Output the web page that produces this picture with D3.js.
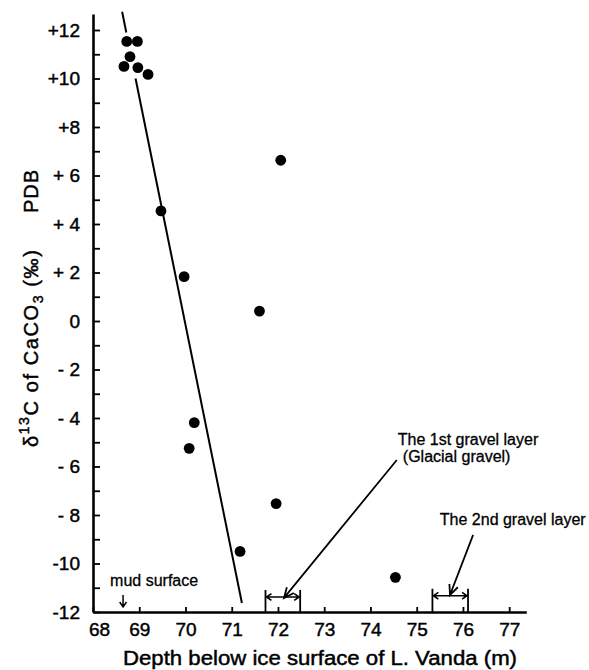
<!DOCTYPE html>
<html>
<head>
<meta charset="utf-8">
<script src="https://cdn.jsdelivr.net/npm/d3@7"></script>
<style>
  html, body { margin: 0; padding: 0; background: #fff; }
  svg { display: block; }
  text { font-family: "Liberation Sans", Arial, sans-serif; fill: #000; }
  .heavy { stroke: #000; stroke-width: 0.45px; }
</style>
</head>
<body>
<svg id="chart" width="589" height="670"></svg>
<script>
// ---- data ----
const depth = [68.73, 68.96, 68.80, 68.67, 68.97, 69.19, 69.47, 69.97, 71.60, 72.06, 70.19, 70.08, 71.96, 71.18, 74.54];
const d13C  = [11.53, 11.53, 10.90, 10.50, 10.45, 10.17, 4.54, 1.83, 0.41, 6.63, -4.19, -5.25, -7.53, -9.50, -10.57];

// regression line, drawn as two segments (gap behind the top cluster)
const fitDepth = [68.63, 68.72, 68.92, 71.22];
const fitD13C  = [12.75, 11.90, 10.00, -11.63];

const xTickValues = [68, 69, 70, 71, 72, 73, 74, 75, 76, 77];
const xTickLabels = ["68", "69", "70", "71", "72", "73", "74", "75", "76", "77"];
const yTickValues = [12, 10, 8, 6, 4, 2, 0, -2, -4, -6, -8, -10, -12];
const yTickLabels = ["+12", "+10", "+8", "+ 6", "+ 4", "+ 2", "0", "- 2", "- 4", "- 6", "- 8", "-10", "-12"];

// gravel layers (depth ranges) and annotations
const gravelStart = [71.73, 75.34];
const gravelEnd   = [72.48, 76.11];
const gravelLevel = [-11.38, -11.33];
const gravelNames = [["The 1st gravel layer", "(Glacial gravel)"], ["The 2nd gravel layer"]];
const gravelTextX = [[74.59, 74.70], [75.50]];
const gravelTextY = [[-5.11, -5.81], [-8.41]];
const gravelArrowFrom = [[74.57, -5.73], [76.22, -8.82]];
const gravelArrowTo   = [[72.13, -11.42], [75.72, -11.30]];
const mudDepth = 68.65;
const mudText = "mud surface";

// ---- scales ----
const svg = d3.select("#chart");
const x = d3.scaleLinear().domain([68, 77.37]).range([93, 526.3]);
const y = d3.scaleLinear().domain([-12, 12.66]).range([612, 14]);

// ---- axes ----
const xLab = new Map(xTickValues.map((v, i) => [v, xTickLabels[i]]));
const xAxis = d3.axisBottom(x).tickValues(xTickValues).tickSizeInner(-5).tickSizeOuter(0)
  .tickPadding(11).tickFormat(d => xLab.get(d));
const gx = svg.append("g").attr("transform", `translate(0,${y(-12)})`).call(xAxis);
gx.select(".domain").attr("stroke", "#000").attr("stroke-width", 2.6);
gx.selectAll(".tick line").attr("stroke", "#000").attr("stroke-width", 1.8);
gx.selectAll(".tick text").attr("font-size", 19).attr("font-family", "Liberation Sans, Arial, sans-serif")
  .attr("fill", "#000").attr("class", "heavy");
gx.selectAll(".tick").filter(d => d === 68).select("text").attr("dx", 6);

const yLab = new Map(yTickValues.map((v, i) => [v, yTickLabels[i]]));
const yAxis = d3.axisLeft(y).tickValues(d3.range(-12, 13)).tickSizeInner(-7).tickSizeOuter(0)
  .tickPadding(13).tickFormat(d => yLab.has(d) ? yLab.get(d) : "");
const gy = svg.append("g").attr("transform", `translate(${x(68)},0)`).call(yAxis);
gy.select(".domain").attr("stroke", "#000").attr("stroke-width", 2.6);
gy.selectAll(".tick line").attr("stroke", "#000").attr("stroke-width", 1.8);
gy.selectAll(".tick text").attr("font-size", 19).attr("font-family", "Liberation Sans, Arial, sans-serif")
  .attr("fill", "#000").attr("class", "heavy").style("white-space", "pre");

// ---- axis titles ----
svg.append("text")
  .attr("class", "heavy")
  .attr("x", 123).attr("y", 665)
  .attr("font-size", 20)
  .attr("textLength", 394).attr("lengthAdjust", "spacingAndGlyphs")
  .text("Depth below ice  surface of L. Vanda (m)");

const yt = svg.append("text")
  .attr("class", "heavy")
  .attr("transform", "translate(38,447) rotate(-90)")
  .attr("font-size", 20)
  .attr("letter-spacing", 1.6);
yt.append("tspan").text("δ");
yt.append("tspan").attr("dy", -9).attr("font-size", 14).text("13");
yt.append("tspan").attr("dy", 9).text("C of CaCO");
yt.append("tspan").attr("dy", 5).attr("font-size", 14).text("3");
yt.append("tspan").attr("dy", -5).text(" (‰)");

svg.append("text")
  .attr("class", "heavy")
  .attr("transform", "translate(38,213) rotate(-90)")
  .attr("font-size", 20)
  .attr("letter-spacing", 1)
  .text("PDB");

// ---- regression line ----
const line = d3.line().x(d => x(d[0])).y(d => y(d[1]));
const seg1 = [[fitDepth[0], fitD13C[0]], [fitDepth[1], fitD13C[1]]];
const seg2 = [[fitDepth[2], fitD13C[2]], [fitDepth[3], fitD13C[3]]];
svg.selectAll("path.fit").data([seg1, seg2]).enter().append("path")
  .attr("class", "fit").attr("d", line)
  .attr("fill", "none").attr("stroke", "#000").attr("stroke-width", 2);

// ---- points ----
svg.selectAll("circle.pt").data(depth.map((d, i) => [d, d13C[i]])).enter().append("circle")
  .attr("class", "pt")
  .attr("cx", d => x(d[0])).attr("cy", d => y(d[1])).attr("r", 5.4)
  .attr("fill", "#000");

// ---- arrows helper ----
function arrow(x1, y1, x2, y2, len, spread, sw) {
  const a = Math.atan2(y2 - y1, x2 - x1);
  const p = d3.path();
  p.moveTo(x1, y1); p.lineTo(x2, y2);
  p.moveTo(x2 - len * Math.cos(a - spread), y2 - len * Math.sin(a - spread));
  p.lineTo(x2, y2);
  p.lineTo(x2 - len * Math.cos(a + spread), y2 - len * Math.sin(a + spread));
  svg.append("path").attr("d", p.toString()).attr("fill", "none")
    .attr("stroke", "#000").attr("stroke-width", sw).attr("stroke-linejoin", "miter");
}

// ---- gravel layers ----
gravelStart.forEach((s, i) => {
  const xs = x(s), xe = x(gravelEnd[i]), yb = y(gravelLevel[i]);
  const xm = (xs + xe) / 2;
  arrow(xm, yb, xs + 1, yb, 6, 0.6, 1.6);
  arrow(xm, yb, xe - 1, yb, 6, 0.6, 1.6);
  [xs, xe].forEach(xx => {
    svg.append("path").attr("d", `M${xx},${yb - 7}L${xx},${y(-12)}`)
      .attr("stroke", "#000").attr("stroke-width", 1.8);
  });
  gravelNames[i].forEach((t, j) => {
    svg.append("text").attr("x", x(gravelTextX[i][j])).attr("y", y(gravelTextY[i][j]))
      .attr("font-size", 16).attr("class", "heavy").style("stroke-width", "0.3px")
      .text(t);
  });
  const f = gravelArrowFrom[i], tt = gravelArrowTo[i];
  arrow(x(f[0]), y(f[1]), x(tt[0]), y(tt[1]), 11, 0.42, 1.8);
});

// ---- mud surface ----
svg.append("text").attr("x", x(68.37)).attr("y", y(-10.93))
  .attr("font-size", 16).attr("class", "heavy").style("stroke-width", "0.3px").text(mudText);
arrow(x(mudDepth), y(-11.30), x(mudDepth), y(-11.79), 6, 0.6, 1.5);
</script>
</body>
</html>
